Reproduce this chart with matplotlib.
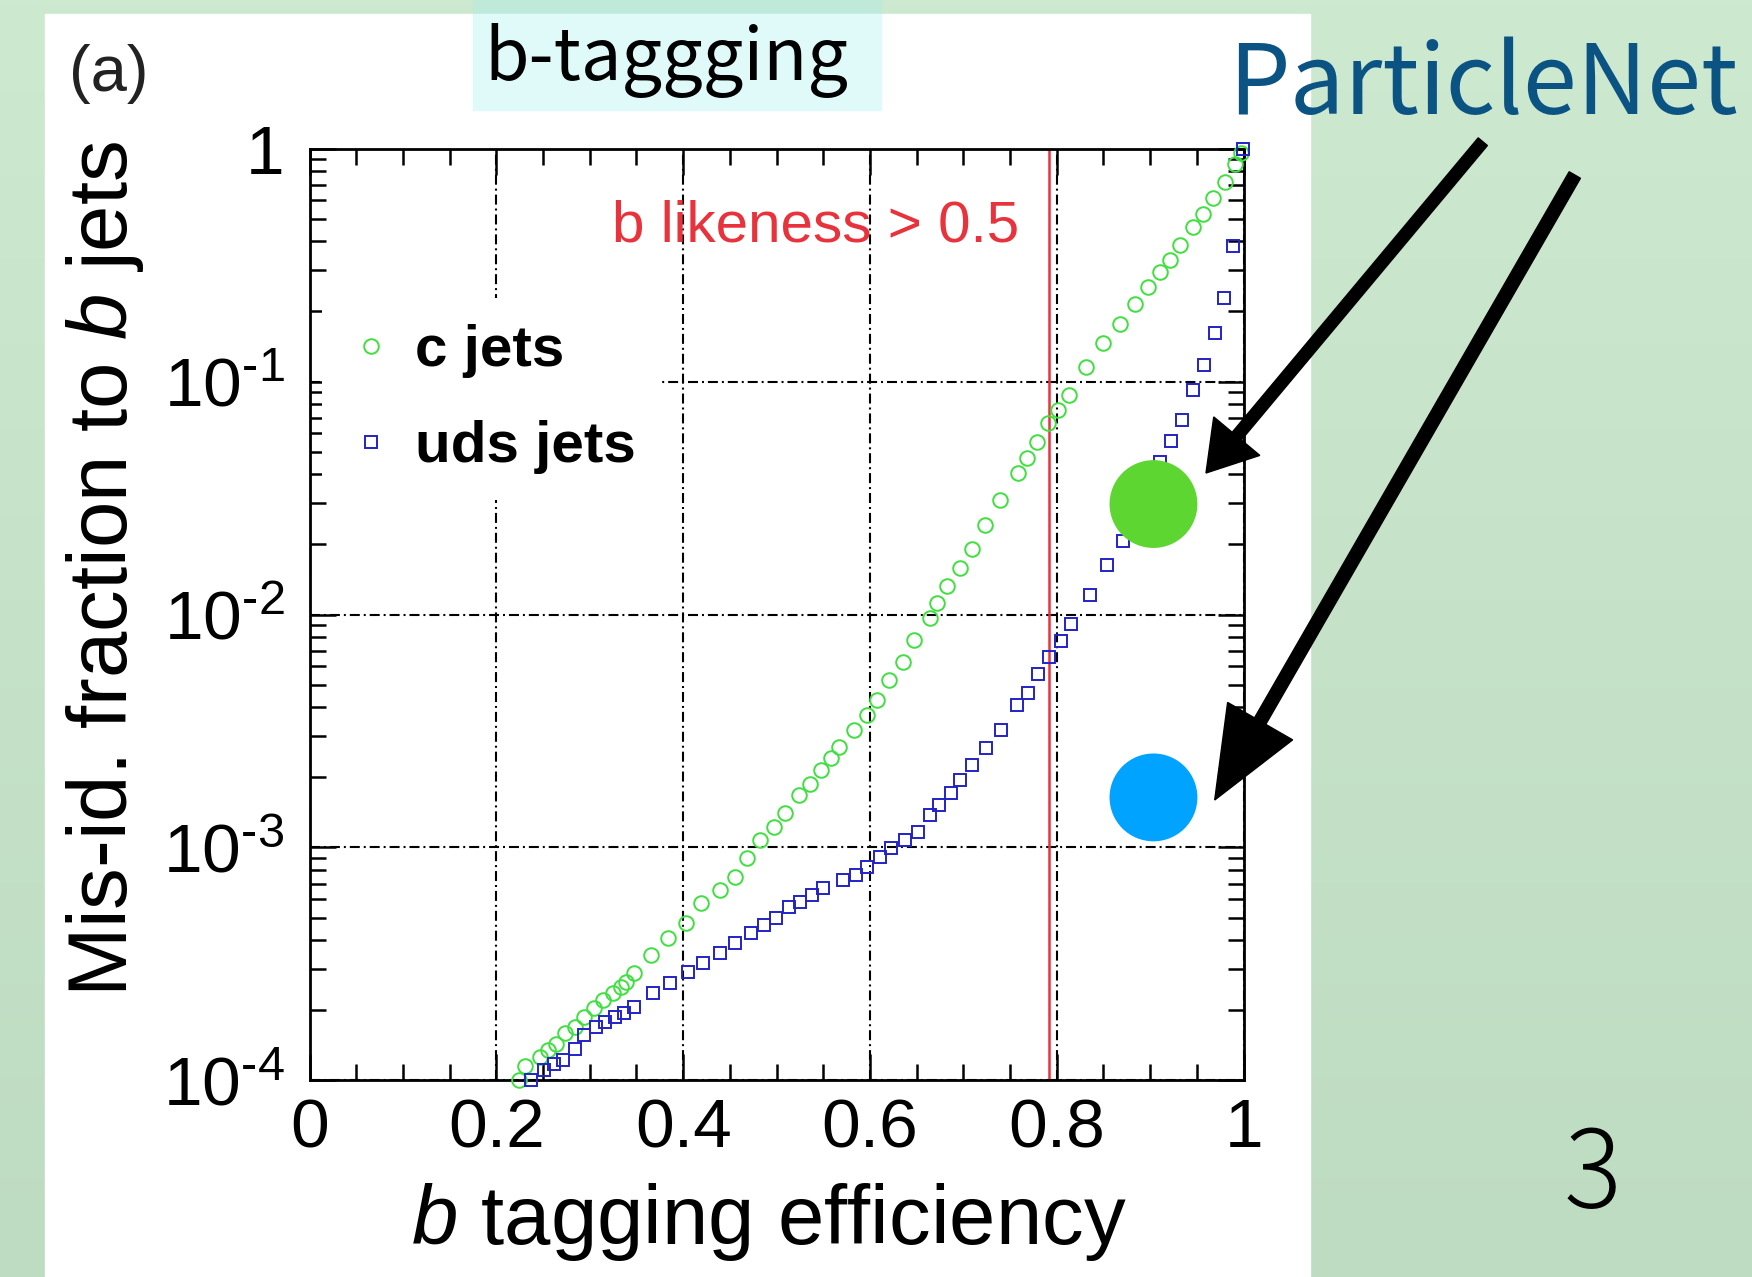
import numpy as np
import matplotlib
matplotlib.use('Agg')
import matplotlib.pyplot as plt
from matplotlib.patches import Rectangle, FancyArrow
from matplotlib.ticker import FixedLocator, MultipleLocator

# c jets (green circles): b-tag efficiency vs mis-id fraction
c_eff = [0.2245, 0.2306, 0.2470, 0.2552, 0.2634, 0.2736, 0.2839, 0.2941, 0.3044, 0.3146,
         0.3249, 0.3330, 0.3392, 0.3474, 0.3658, 0.3842, 0.4027, 0.4191, 0.4396, 0.4560,
         0.4683, 0.4826, 0.4970, 0.5093, 0.5236, 0.5358, 0.5481, 0.5584, 0.5665, 0.5829,
         0.5973, 0.6075, 0.6208, 0.6352, 0.6475, 0.6638, 0.6720, 0.6823, 0.6966, 0.7089,
         0.7233, 0.7397, 0.7580, 0.7683, 0.7786, 0.7909, 0.8011, 0.8127, 0.8311, 0.8496,
         0.8677, 0.8837, 0.8980, 0.9105, 0.9212, 0.9320, 0.9462, 0.9569, 0.9676, 0.9800,
         0.9908, 0.9970]
c_misid = [1.00e-4, 1.15e-4, 1.26e-4, 1.35e-4, 1.44e-4, 1.59e-4, 1.70e-4, 1.87e-4, 2.04e-4, 2.21e-4,
           2.37e-4, 2.52e-4, 2.65e-4, 2.88e-4, 3.45e-4, 4.07e-4, 4.72e-4, 5.75e-4, 6.56e-4, 7.48e-4,
           8.97e-4, 1.08e-3, 1.23e-3, 1.40e-3, 1.68e-3, 1.88e-3, 2.15e-3, 2.41e-3, 2.70e-3, 3.19e-3,
           3.70e-3, 4.30e-3, 5.24e-3, 6.27e-3, 7.76e-3, 9.64e-3, 1.12e-2, 1.32e-2, 1.58e-2, 1.92e-2,
           2.42e-2, 3.10e-2, 4.04e-2, 4.68e-2, 5.52e-2, 6.62e-2, 7.55e-2, 8.75e-2, 0.116, 0.146,
           0.177, 0.216, 0.255, 0.296, 0.332, 0.385, 0.461, 0.526, 0.611, 0.719,
           0.863, 0.955]

# uds jets (blue squares)
uds_eff = [0.2368, 0.2512, 0.2613, 0.2716, 0.2839, 0.2941, 0.3064, 0.3167, 0.3270, 0.3371,
           0.3474, 0.3678, 0.3864, 0.4048, 0.4212, 0.4396, 0.4560, 0.4723, 0.4867, 0.4990,
           0.5133, 0.5256, 0.5379, 0.5502, 0.5707, 0.5851, 0.5973, 0.6106, 0.6229, 0.6372,
           0.6515, 0.6638, 0.6741, 0.6864, 0.6966, 0.7089, 0.7245, 0.7405, 0.7573, 0.7696,
           0.7794, 0.7917, 0.8040, 0.8154, 0.8360, 0.8534, 0.8706, 0.8910, 0.9105, 0.9220,
           0.9344, 0.9462, 0.9576, 0.9694, 0.9790, 0.9890, 0.9998]
uds_misid = [1.00e-4, 1.11e-4, 1.18e-4, 1.22e-4, 1.37e-4, 1.57e-4, 1.70e-4, 1.79e-4, 1.87e-4, 1.94e-4,
             2.07e-4, 2.37e-4, 2.61e-4, 2.93e-4, 3.18e-4, 3.52e-4, 3.87e-4, 4.28e-4, 4.65e-4, 4.97e-4,
             5.57e-4, 5.85e-4, 6.25e-4, 6.68e-4, 7.24e-4, 7.62e-4, 8.26e-4, 9.12e-4, 9.91e-4, 1.08e-3,
             1.17e-3, 1.38e-3, 1.52e-3, 1.71e-3, 1.95e-3, 2.26e-3, 2.66e-3, 3.19e-3, 4.08e-3, 4.61e-3,
             5.55e-3, 6.59e-3, 7.71e-3, 9.08e-3, 1.21e-2, 1.63e-2, 2.07e-2, 3.02e-2, 4.52e-2, 5.55e-2,
             6.87e-2, 9.18e-2, 0.118, 0.161, 0.228, 0.381, 1.00]

# ParticleNet working points (c jets, uds jets)
pnet_eff = [0.9035, 0.9035]
pnet_misid = [0.0298, 0.00164]
pnet_colors = ['#5dd632', '#00a3ff']

cut_eff = 0.792
xticks = [0, 0.2, 0.4, 0.6, 0.8, 1]
xticklabels = ['0', '0.2', '0.4', '0.6', '0.8', '1']
yticks = [1e-4, 1e-3, 1e-2, 1e-1, 1]
yticklabels = [r'$10^{\text{-}4}$', r'$10^{\text{-}3}$', r'$10^{\text{-}2}$', r'$10^{\text{-}1}$', '1']

plt.rcParams['font.family'] = ['Liberation Sans', 'DejaVu Sans']
plt.rcParams['mathtext.fontset'] = 'custom'
plt.rcParams['mathtext.rm'] = 'Liberation Sans'
plt.rcParams['mathtext.it'] = 'Liberation Sans:italic'
plt.rcParams['mathtext.bf'] = 'Liberation Sans:bold'

W, H = 1752, 1277
fig = plt.figure(figsize=(W / 100, H / 100), dpi=100)

# slide background
bg = fig.add_axes([0, 0, 1, 1], zorder=-10)
top = np.array([205, 233, 208]) / 255
bot = np.array([190, 220, 193]) / 255
t = np.linspace(0, 1, 256)[:, None, None]
bg.imshow(top + (bot - top) * t, aspect='auto', extent=[0, W, H, 0])
bg.add_patch(Rectangle((45, 14), 1265, H - 14, color='white'))
bg.add_patch(Rectangle((473, 0), 408, 14, color='#bfeada'))
bg.add_patch(Rectangle((473, 14), 408, 96, color='#e0fafa'))
bg.set_xlim(0, W)
bg.set_ylim(H, 0)
bg.axis('off')

ax = fig.add_axes([0.17666, 0.15395, 0.53316, 0.72968])
ax.set_facecolor('white')
ax.set_yscale('log')
ax.set_xlim(0, 1)
ax.set_ylim(1e-4, 1)
ax.set_axisbelow(True)
ax.grid(True, which='major', color='black', ls=(0, (4.8, 1.9, 0.95, 1.9)), lw=1.5)

ax.axvline(cut_eff, color='#e8323c', lw=1.8, zorder=1.5)
ax.plot(c_eff, c_misid, 'o', mfc='none', mec='#3fe03f', ms=10.5, mew=1.4,
        clip_on=False, label='c jets', zorder=3)
ax.plot(uds_eff, uds_misid, 's', mfc='none', mec='#2323c8', ms=9, mew=1.4,
        clip_on=False, label='uds jets', zorder=3)
ax.scatter(pnet_eff, pnet_misid, s=4000, c=pnet_colors, zorder=6, clip_on=False,
           linewidths=0)

ax.text(0.324, 0.40, 'b likeness > 0.5', color='#e8323c', fontsize=42,
        va='baseline', ha='left')

leg = ax.legend(loc='upper left', bbox_to_anchor=(0.013, 0.840), borderaxespad=0,
                frameon=True, facecolor='white', edgecolor='none', framealpha=1,
                fancybox=False, prop={'weight': 'bold', 'size': 42},
                handlelength=0.8, handletextpad=0.35, borderpad=0.45,
                labelspacing=0.72)
leg.set_zorder(4)

ax.xaxis.set_major_locator(FixedLocator(xticks))
ax.set_xticklabels(xticklabels)
ax.xaxis.set_minor_locator(MultipleLocator(0.05))
ax.yaxis.set_major_locator(FixedLocator(yticks))
ax.set_yticklabels(yticklabels)
ax.yaxis.set_minor_locator(matplotlib.ticker.LogLocator(base=10, subs=np.arange(2, 10), numticks=20))
ax.yaxis.set_minor_formatter(matplotlib.ticker.NullFormatter())

ax.tick_params(which='both', direction='in', top=True, right=True, width=1.8, colors='black')
ax.tick_params(which='major', length=19, labelsize=50)
ax.tick_params(which='minor', length=11.5)
ax.tick_params(axis='x', pad=12)
ax.tick_params(axis='y', pad=18)
for s in ax.spines.values():
    s.set_linewidth(2)

ax.set_xlabel(r'$b$ tagging efficiency', fontsize=60)
ax.xaxis.set_label_coords(0.492, -0.108)
ax.set_ylabel(r'Mis-id. fraction to $b$ jets', fontsize=60)
ax.yaxis.set_label_coords(-0.175, 0.549)

# slide texts
cjk = ['Noto Sans CJK JP', 'DejaVu Sans']
fig.text(109 / W, 1 - 74 / H, '(a)', fontsize=47, color='#222222', ha='center', va='center')
fig.text(484 / W, 1 - 80 / H, 'b-taggging', fontsize=52, family=cjk, color='black',
         ha='left', va='baseline')
fig.text(1228 / W, 1 - 114 / H, 'ParticleNet', fontsize=70, family=cjk, color='#0b5383',
         ha='left', va='baseline')
fig.text(1592 / W, 1 - 1208 / H, '3', fontsize=78, family=cjk, color='black',
         ha='center', va='baseline', weight='light')

# arrows from the label to the points
ov = fig.add_axes([0, 0, 1, 1], zorder=10)
ov.set_xlim(0, W)
ov.set_ylim(H, 0)
ov.axis('off')
ov.patch.set_alpha(0)
ov.add_patch(FancyArrow(1482.8, 141.7, 1206 - 1482.8, 473 - 141.7, width=12,
                        head_width=60, head_length=48, length_includes_head=True,
                        color='black'))
ov.add_patch(FancyArrow(1574.8, 175, 1214.7 - 1574.8, 800 - 175, width=13,
                        head_width=75, head_length=91, length_includes_head=True,
                        color='black'))

fig.savefig('out.png', dpi=100)
